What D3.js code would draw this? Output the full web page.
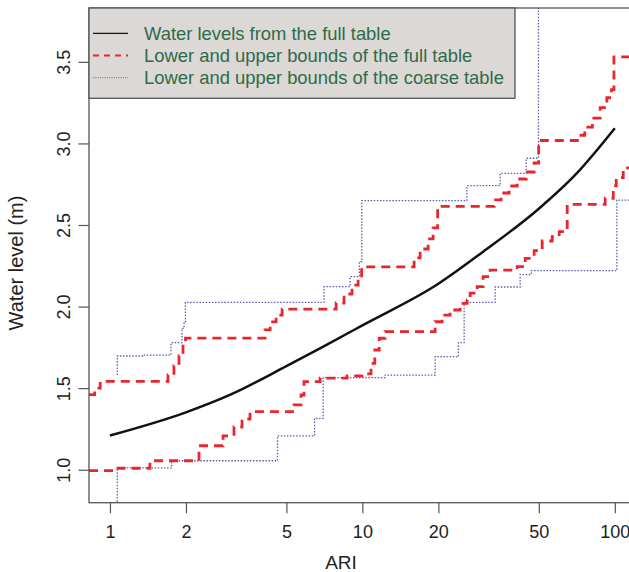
<!DOCTYPE html>
<html>
  <head>
    <meta charset="utf-8">
    <script src="https://d3js.org/d3.v7.min.js"></script>
    <style>
      body { margin: 0; background: #fff; }
      text { font-family: "Liberation Sans", Arial, sans-serif; }
      .tick line { stroke: #555; stroke-width: 1.2; }
      .tick text { font-size: 18px; fill: #222; }
      .axis-title { font-size: 19px; fill: #222; }
      .legend text { font-size: 18.4px; fill: #2e6b4c; }
    </style>
  </head>
  <body>
    <div id="chart"></div>
    <script>
      // curve from the full table
      var curveAri   = [1, 2, 3, 5, 7, 10, 20, 30, 50, 70, 100];
      var curveLevel = [1.21, 1.352, 1.46, 1.635, 1.755, 1.885, 2.14, 2.335, 2.60, 2.81, 3.093];

      // bounds of the full table (step functions)
      var fullUpperAri   = [0.826, 0.87, 0.915, 1.698, 1.793, 1.877, 1.947, 1.992, 4.115, 4.31, 4.55, 4.81,
                            7.87, 8.46, 9.10, 9.62, 9.93, 16.03, 16.93, 18.21, 19.06, 19.87, 33.27, 35.45,
                            38.14, 41.04, 44.56, 47.91, 49.93, 72.0, 76.0, 81.5, 87.5, 93.0, 97.0, 99.2, 125];
      var fullUpperLevel = [1.46, 1.50, 1.541, 1.581, 1.636, 1.697, 1.758, 1.807, 1.857, 1.906, 1.948, 1.985,
                            2.022, 2.077, 2.132, 2.188, 2.243, 2.298, 2.353, 2.415, 2.482, 2.614, 2.654, 2.696,
                            2.739, 2.782, 2.825, 2.880, 3.018, 3.05, 3.10, 3.155, 3.22, 3.28, 3.33, 3.53, 3.53];

      var fullLowerAri   = [0.826, 1.076, 1.44, 2.253, 2.805, 3.10, 3.336, 3.588, 5.36, 5.715, 5.87, 6.80,
                            8.70, 9.96, 10.82, 11.20, 11.66, 12.30, 19.42, 20.70, 22.26, 24.39, 26.00, 26.73,
                            28.49, 30.09, 32.07, 41.04, 44.16, 47.91, 51.55, 56.48, 60.21, 64.76, 91.6, 98.6,
                            101.3, 108, 125];
      var fullLowerLevel = [0.994, 1.009, 1.055, 1.147, 1.208, 1.262, 1.311, 1.356, 1.397, 1.458, 1.540, 1.562,
                            1.575, 1.587, 1.652, 1.734, 1.806, 1.846, 1.907, 1.948, 1.979, 2.020, 2.040, 2.082,
                            2.122, 2.183, 2.224, 2.245, 2.296, 2.343, 2.402, 2.429, 2.459, 2.626, 2.664, 2.74,
                            2.79, 2.85, 2.85];

      // bounds of the coarse table
      var coarseUpperAri   = [1.069, 1.069, 1.355, 1.745, 1.929, 1.965, 1.99, 7.05, 8.94, 9.73, 9.94, 25.93, 35.13, 44.56, 49.84, 125];
      var coarseUpperLevel = [1.58, 1.697, 1.703, 1.779, 1.867, 1.898, 2.026, 2.122, 2.183, 2.275, 2.649, 2.741, 2.817, 2.909, 4.5, 4.5];

      var coarseLowerAri   = [1.069, 1.069, 1.756, 4.61, 6.465, 6.99, 12.3, 19.42, 24.02, 25.3, 33.57, 42.17, 46.63, 101.9, 125];
      var coarseLowerLevel = [0.5, 1.012, 1.055, 1.208, 1.315, 1.564, 1.58, 1.693, 1.779, 2.026, 2.12, 2.196, 2.22, 2.653, 2.653];

      var ariTicks   = [1, 2, 5, 10, 20, 50, 100];
      var levelTicks = [1.0, 1.5, 2.0, 2.5, 3.0, 3.5];

      var legendLabels = ["Water levels from the full table",
                          "Lower and upper bounds of the full table",
                          "Lower and upper bounds of the coarse table"];

      var width = 629, height = 572;
      // plot region (note: "top" is reserved on window, so prefix these)
      var plotLeft = 89, plotTop = 8, plotRight = 634.8, plotBottom = 502.7;

      var x = d3.scaleLog().domain([0.826, 120]).range([plotLeft, plotRight]);
      var y = d3.scaleLinear().domain([0.798, 3.830]).range([plotBottom, plotTop]);

      var svg = d3.select('#chart')
          .append('svg')
          .attr('width', width)
          .attr('height', height);

      svg.append('clipPath').attr('id', 'plotclip')
          .append('rect')
          .attr('x', plotLeft).attr('y', plotTop)
          .attr('width', plotRight - plotLeft).attr('height', plotBottom - plotTop);

      function zip(a, b) {
          return a.map(function(d, i) { return [d, b[i]]; });
      }

      var stepLine = d3.line()
          .x(function(d) { return x(d[0]); })
          .y(function(d) { return y(d[1]); })
          .curve(d3.curveStepAfter);

      var smoothLine = d3.line()
          .x(function(d) { return x(d[0]); })
          .y(function(d) { return y(d[1]); })
          .curve(d3.curveMonotoneX);

      var plot = svg.append('g').attr('clip-path', 'url(#plotclip)');

      var blue = '#5c5fa8', red = '#e8262e';

      // coarse table bounds (dotted)
      [zip(coarseUpperAri, coarseUpperLevel), zip(coarseLowerAri, coarseLowerLevel)].forEach(function(s) {
          plot.append('path')
              .attr('d', stepLine(s))
              .attr('fill', 'none')
              .attr('stroke', blue)
              .attr('stroke-width', 1.3)
              .attr('stroke-dasharray', '1.5,1.6');
      });

      // full table bounds (dashed)
      [zip(fullUpperAri, fullUpperLevel), zip(fullLowerAri, fullLowerLevel)].forEach(function(s) {
          plot.append('path')
              .attr('d', stepLine(s))
              .attr('fill', 'none')
              .attr('stroke', red)
              .attr('stroke-width', 2.8)
              .attr('stroke-dasharray', '9,6');
      });

      // central curve
      plot.append('path')
          .attr('d', smoothLine(zip(curveAri, curveLevel)))
          .attr('fill', 'none')
          .attr('stroke', '#111')
          .attr('stroke-width', 2.5);

      // axes
      var xAxis = svg.append('g')
          .attr('transform', 'translate(0,' + plotBottom + ')')
          .call(d3.axisBottom(x).tickValues(ariTicks).tickFormat(d3.format('d')).tickSize(10.5));
      xAxis.select('.domain').remove();
      xAxis.selectAll('.tick text').attr('y', 35.5).attr('dy', null).attr('fill', '#222');

      var yAxis = svg.append('g')
          .attr('transform', 'translate(' + plotLeft + ',0)')
          .call(d3.axisLeft(y).tickValues(levelTicks).tickFormat(d3.format('.1f')).tickSize(10.5));
      yAxis.select('.domain').remove();
      yAxis.selectAll('.tick text')
          .attr('transform', 'rotate(-90)')
          .attr('text-anchor', 'middle')
          .attr('x', 0).attr('y', -19).attr('dy', null)
          .attr('fill', '#222');

      // box
      svg.append('rect')
          .attr('x', plotLeft).attr('y', plotTop)
          .attr('width', plotRight - plotLeft).attr('height', plotBottom - plotTop)
          .attr('fill', 'none')
          .attr('stroke', '#555')
          .attr('stroke-width', 1.3);

      // axis titles
      svg.append('text')
          .attr('class', 'axis-title')
          .attr('x', 341).attr('y', 569)
          .attr('text-anchor', 'middle')
          .text('ARI');

      svg.append('text')
          .attr('class', 'axis-title')
          .attr('transform', 'translate(23,263) rotate(-90)')
          .attr('text-anchor', 'middle')
          .style('font-size', '20px')
          .text('Water level (m)');

      // legend
      var legend = svg.append('g').attr('class', 'legend');
      legend.append('rect')
          .attr('x', plotLeft).attr('y', plotTop)
          .attr('width', 515 - plotLeft).attr('height', 98.3 - plotTop)
          .attr('fill', '#dcd8d5')
          .attr('stroke', '#555')
          .attr('stroke-width', 1.3);

      var legendStyles = [
          { color: '#111', width: 1.3, dash: null },
          { color: red, width: 2, dash: '6,5' },
          { color: blue, width: 1, dash: '1,1.3' }
      ];

      legendLabels.forEach(function(label, i) {
          var cy = 33.3 + i * 22.2;
          legend.append('line')
              .attr('x1', 93).attr('x2', 128)
              .attr('y1', cy).attr('y2', cy)
              .attr('stroke', legendStyles[i].color)
              .attr('stroke-width', legendStyles[i].width)
              .attr('stroke-dasharray', legendStyles[i].dash);
          legend.append('text')
              .attr('x', 144).attr('y', cy + 6.3)
              .text(label);
      });
    </script>
  </body>
</html>
